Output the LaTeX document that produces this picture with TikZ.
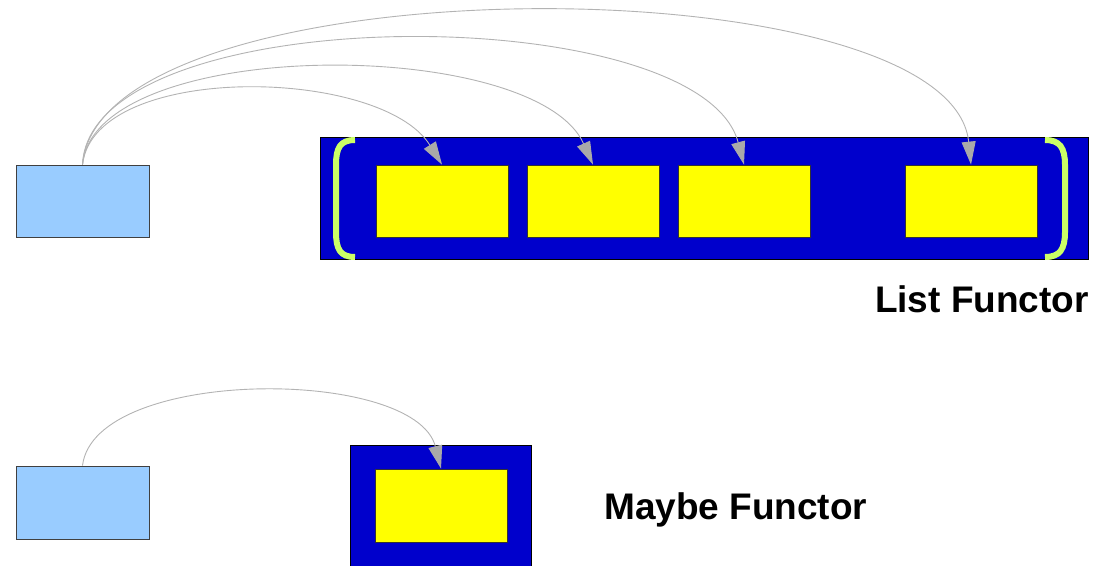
\documentclass[tikz,border=0pt]{standalone}
\usepackage{fontspec}
\setmainfont{Liberation Sans}
\usetikzlibrary{arrows.meta}
\definecolor{srcblue}{HTML}{99CCFF}
\definecolor{boxblue}{HTML}{0000CC}
\definecolor{itemyellow}{HTML}{FFFF00}
\definecolor{brackgreen}{HTML}{CCFF66}
\definecolor{linkgray}{HTML}{B3B3B3}
\definecolor{tipgray}{HTML}{A9A9A9}
\tikzset{
  srcbox/.style={draw=black!75, line width=0.8pt, fill=srcblue, inner sep=0pt, minimum width=133pt, minimum height=72pt},
  container/.style={draw=black, line width=0.8pt, fill=boxblue, inner sep=0pt},
  itembox/.style={draw=black!80, line width=0.8pt, fill=itemyellow, inner sep=0pt, minimum width=132pt, minimum height=72pt},
  link/.style={draw=linkgray, line width=0.9pt, -{Triangle[length=23pt,width=14pt,color=tipgray]}, fill=none},
  brack/.style={draw=brackgreen, line width=6pt},
  title/.style={font=\bfseries\fontsize{37pt}{40pt}\selectfont, inner sep=0pt}
}
\begin{document}
\begin{tikzpicture}[x=1pt,y=-1pt]
\useasboundingbox (0,0) rectangle (1111,565);
% List functor
\node[srcbox] (s1) at (82.5,201) {};
\node[container, minimum width=768pt, minimum height=122pt] (list) at (704,198) {};
\draw[brack] (355,140) .. controls (340,140) and (336,148) .. (336,165) -- (336,232) .. controls (336,249) and (340,257) .. (355,257);
\draw[brack] (1045,140) .. controls (1060,140) and (1065,148) .. (1065,165) -- (1065,232) .. controls (1065,249) and (1060,257) .. (1045,257);
\node[itembox] (y1) at (442,201) {};
\node[itembox] (y2) at (593,201) {};
\node[itembox] (y3) at (744,201) {};
\node[itembox] (y4) at (971,201) {};
\draw[link] (s1.north) .. controls +(12,-103) and +(-61,-98) .. (y1.north);
\draw[link] (s1.north) .. controls +(12,-129) and +(-58,-129) .. (y2.north);
\draw[link] (s1.north) .. controls +(7,-167) and +(-44,-167) .. (y3.north);
\draw[link] (s1.north) .. controls +(17,-204) and +(-21,-204) .. (y4.north);
\node[title, anchor=base east] (lt) at (1089,312) {List Functor};
% Maybe functor
\node[srcbox, minimum height=73pt] (s2) at (82.5,502.5) {};
\node[container, minimum width=181pt, minimum height=122pt] (maybe) at (440.5,506) {};
\node[itembox, minimum height=73pt] (m1) at (441,505.5) {};
\draw[link] (s2.north) .. controls +(12,-99) and +(-26,-102) .. (m1.north);
\node[title, anchor=base west] (mt) at (604,519) {Maybe Functor};
\end{tikzpicture}
\end{document}
